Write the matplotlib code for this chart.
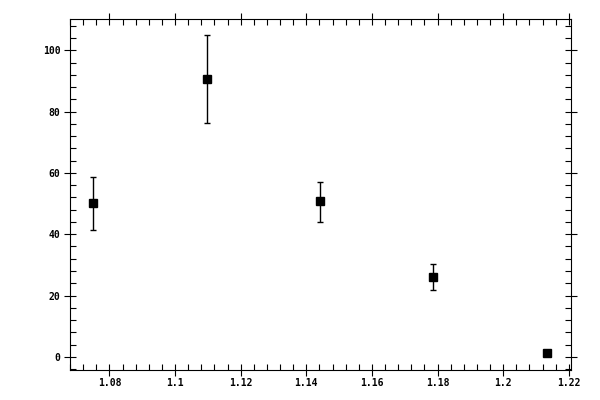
import matplotlib
matplotlib.use("Agg")
import matplotlib.pyplot as plt
from matplotlib.ticker import MultipleLocator, FuncFormatter

# values
x_vals = [1.0750, 1.1097, 1.1442, 1.1786, 1.2133]
y_vals = [50.1, 90.6, 50.8, 26.0, 1.1]
y_hi = [58.5, 104.9, 57.1, 30.2, 1.1]
y_lo = [41.5, 76.2, 43.9, 21.8, 1.1]

err_lo = [y - lo for y, lo in zip(y_vals, y_lo)]
err_hi = [hi - y for y, hi in zip(y_vals, y_hi)]

fig = plt.figure(figsize=(6, 4), dpi=100)
ax = fig.add_axes([70 / 600, 30 / 400, 500.5 / 600, 350.7 / 400])

ax.errorbar(x_vals, y_vals, yerr=[err_lo, err_hi], fmt="s", color="black",
            markersize=5.2, elinewidth=1.0, capsize=2.3, capthick=1.0)

ax.set_xlim(1.068, 1.2205)
ax.set_ylim(-4.3, 110.1)

ax.xaxis.set_major_locator(MultipleLocator(0.02))
ax.xaxis.set_minor_locator(MultipleLocator(0.004))
ax.yaxis.set_major_locator(MultipleLocator(20))
ax.yaxis.set_minor_locator(MultipleLocator(4))
ax.xaxis.set_major_formatter(FuncFormatter(lambda v, p: "%g" % round(v, 4)))
ax.yaxis.set_major_formatter(FuncFormatter(lambda v, p: "%g" % round(v, 4)))

ax.tick_params(which="major", direction="inout", length=8, width=0.8,
               top=True, right=True, labelsize=7, pad=3)
ax.tick_params(axis="x", which="major", pad=1.5)
ax.tick_params(which="minor", direction="in", length=4, width=0.8,
               top=True, right=True)
for lab in ax.get_xticklabels() + ax.get_yticklabels():
    lab.set_family("DejaVu Sans Mono")
    lab.set_weight("bold")

for s in ax.spines.values():
    s.set_linewidth(0.8)

fig.savefig("out.png", dpi=100)
